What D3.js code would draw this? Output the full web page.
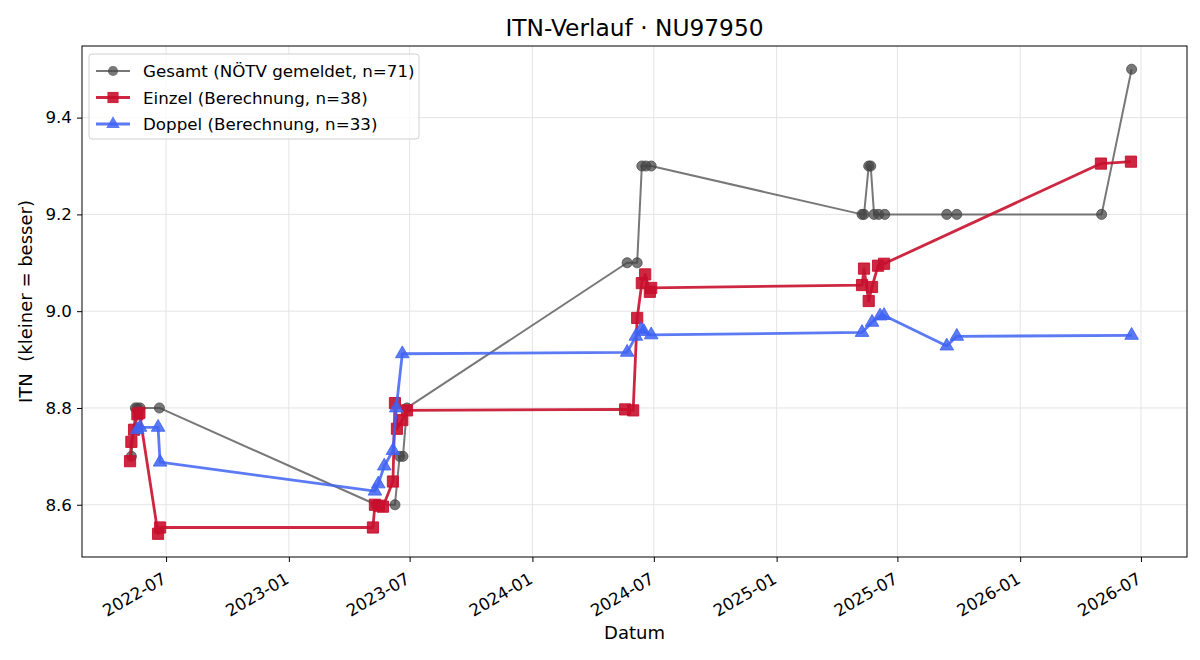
<!DOCTYPE html>
<html>
<head>
<meta charset="utf-8">
<script src="https://cdn.jsdelivr.net/npm/d3@7"></script>
<style>
  body { margin: 0; background: #fff; }
  text { font-family: "DejaVu Sans", sans-serif; fill: #000; }
</style>
</head>
<body>
<div id="chart"></div>
<script>
// data
var gesamtDates = ["2022-05-10","2022-05-16","2022-05-19","2022-05-23","2022-06-21",
  "2023-05-12","2023-06-09","2023-06-16","2023-06-21","2023-06-27",
  "2024-05-22","2024-06-06","2024-06-13","2024-06-19","2024-06-27",
  "2025-05-09","2025-05-12","2025-05-19","2025-05-22","2025-05-27","2025-06-03","2025-06-12",
  "2025-09-13","2025-09-28","2026-05-03","2026-06-17"];
var gesamtVals = [8.7,8.8,8.8,8.8,8.8,
  8.6,8.6,8.7,8.7,8.8,
  9.1,9.1,9.3,9.3,9.3,
  9.2,9.2,9.3,9.3,9.2,9.2,9.2,
  9.2,9.2,9.2,9.5];

var einzelDates = ["2022-05-08","2022-05-10","2022-05-14","2022-05-19","2022-05-22","2022-06-19","2022-06-22",
  "2023-05-07","2023-05-10","2023-05-16","2023-05-22","2023-06-06","2023-06-09","2023-06-12","2023-06-20","2023-06-27",
  "2024-05-19","2024-05-31","2024-06-06","2024-06-13","2024-06-18","2024-06-25","2024-06-27",
  "2025-05-09","2025-05-12","2025-05-19","2025-05-24","2025-06-02","2025-06-11",
  "2026-05-02","2026-06-16"];
var einzelVals = [8.69,8.73,8.755,8.787,8.79,8.54,8.553,
  8.553,8.6,8.598,8.596,8.648,8.81,8.757,8.775,8.795,
  8.797,8.795,8.986,9.058,9.076,9.04,9.048,
  9.054,9.088,9.021,9.05,9.094,9.098,
  9.305,9.309];

var doppelDates = ["2022-05-19","2022-05-23","2022-06-19","2022-06-22",
  "2023-05-10","2023-05-15","2023-05-24","2023-06-06","2023-06-11","2023-06-20",
  "2024-05-22","2024-06-04","2024-06-12","2024-06-16","2024-06-27",
  "2025-05-09","2025-05-24","2025-06-05","2025-06-11",
  "2025-09-13","2025-09-28","2026-06-17"];
var doppelVals = [8.755,8.76,8.76,8.688,
  8.628,8.643,8.68,8.712,8.80,8.912,
  8.915,8.948,8.962,8.958,8.951,
  8.956,8.977,8.99,8.991,
  8.928,8.948,8.95];

var xDomain = ["2022-02-25", "2026-09-08"];
var yTicks = [8.6, 8.8, 9.0, 9.2, 9.4];
var legendLabels = ["Gesamt (NÖTV gemeldet, n=71)", "Einzel (Berechnung, n=38)", "Doppel (Berechnung, n=33)"];

var width = 1200, height = 660;
var margin = {left: 82, right: 13, top: 46, bottom: 103};

var parse = d3.timeParse("%Y-%m-%d");
function pack(dates, vals) {
  return dates.map(function(d, i) { return {date: parse(d), v: vals[i]}; });
}
var series = [
  {name: legendLabels[0], data: pack(gesamtDates, gesamtVals), line: "#444444", lineOpacity: 0.72, lw: 2, fill: "#444444", shape: "circle"},
  {name: legendLabels[1], data: pack(einzelDates, einzelVals), line: "#c8102e", lineOpacity: 0.9, lw: 2.8, fill: "#c8102e", shape: "square"},
  {name: legendLabels[2], data: pack(doppelDates, doppelVals), line: "#3f63f2", lineOpacity: 0.85, lw: 2.8, fill: "#3f63f2", shape: "triangle"}
];

var allPts = [].concat(series[0].data, series[1].data, series[2].data);
var vExt = d3.extent(allPts, function(d) { return d.v; });
var vPad = (vExt[1] - vExt[0]) * 0.05;

var x = d3.scaleTime()
  .domain(xDomain.map(parse))
  .range([margin.left, width - margin.right]);
var y = d3.scaleLinear()
  .domain([vExt[0] - vPad, vExt[1] + vPad])
  .range([height - margin.bottom, margin.top]);

var svg = d3.select("#chart").append("svg")
  .attr("width", width)
  .attr("height", height);

var xTicks = d3.timeMonth.every(6).range(x.domain()[0], x.domain()[1])
  .filter(function(d) { return d.getMonth() == 0 || d.getMonth() == 6; });

//grid
svg.append("g").selectAll("line").data(xTicks).enter().append("line")
  .attr("x1", function(d) { return x(d); })
  .attr("x2", function(d) { return x(d); })
  .attr("y1", margin.top)
  .attr("y2", height - margin.bottom)
  .attr("stroke", "#e4e4e4")
  .attr("stroke-width", 1);
svg.append("g").selectAll("line").data(yTicks).enter().append("line")
  .attr("x1", margin.left)
  .attr("x2", width - margin.right)
  .attr("y1", function(d) { return y(d); })
  .attr("y2", function(d) { return y(d); })
  .attr("stroke", "#e4e4e4")
  .attr("stroke-width", 1);

//axes
var xAxis = svg.append("g")
  .attr("transform", "translate(0," + (height - margin.bottom) + ")")
  .call(d3.axisBottom(x).tickValues(xTicks).tickFormat(d3.timeFormat("%Y-%m")).tickSize(5));
xAxis.selectAll("text")
  .style("font-size", "16.7px")
  .attr("text-anchor", "end")
  .attr("x", 0)
  .attr("y", 0)
  .attr("dy", "0.35em")
  .attr("transform", "translate(-2,20) rotate(-30)");

var yAxis = svg.append("g")
  .attr("transform", "translate(" + margin.left + ",0)")
  .call(d3.axisLeft(y).tickValues(yTicks).tickFormat(d3.format(".1f")).tickSize(5).tickPadding(5));
yAxis.selectAll("text").style("font-size", "16.7px");
svg.selectAll(".domain").remove();

svg.append("rect")
  .attr("x", margin.left)
  .attr("y", margin.top)
  .attr("width", width - margin.left - margin.right)
  .attr("height", height - margin.top - margin.bottom)
  .attr("fill", "none")
  .attr("stroke", "#000")
  .attr("stroke-width", 1);

//lines + markers
var line = d3.line()
  .x(function(d) { return x(d.date); })
  .y(function(d) { return y(d.v); });

var symbolFor = {
  circle: d3.symbol().type(d3.symbolCircle).size(80),
  square: d3.symbol().type(d3.symbolSquare).size(125),
  triangle: d3.symbol().type(d3.symbolTriangle).size(80)
};

series.forEach(function(s) {
  svg.append("path")
    .datum(s.data)
    .attr("d", line)
    .attr("fill", "none")
    .attr("stroke", s.line)
    .attr("stroke-opacity", s.lineOpacity)
    .attr("stroke-width", s.lw)
    .attr("stroke-linejoin", "round");
  svg.append("g").selectAll("path").data(s.data).enter().append("path")
    .attr("d", symbolFor[s.shape])
    .attr("transform", function(d) { return "translate(" + x(d.date) + "," + y(d.v) + ")"; })
    .attr("fill", s.fill)
    .attr("fill-opacity", s.lineOpacity)
    .attr("stroke", s.fill)
    .attr("stroke-opacity", s.lineOpacity)
    .attr("stroke-width", 1);
});

//legend
var lg = svg.append("g").attr("transform", "translate(89,54)");
lg.append("rect")
  .attr("width", 330)
  .attr("height", 85)
  .attr("rx", 3)
  .attr("fill", "#fff")
  .attr("fill-opacity", 0.8)
  .attr("stroke", "#d0d0d0");
series.forEach(function(s, i) {
  var yy = 17 + i * 26.5;
  lg.append("line")
    .attr("x1", 7).attr("x2", 41)
    .attr("y1", yy).attr("y2", yy)
    .attr("stroke", s.line)
    .attr("stroke-opacity", s.lineOpacity)
    .attr("stroke-width", s.lw);
  lg.append("path")
    .attr("d", symbolFor[s.shape])
    .attr("transform", "translate(24," + yy + ")")
    .attr("fill", s.fill)
    .attr("fill-opacity", s.lineOpacity);
  lg.append("text")
    .text(s.name)
    .attr("x", 54)
    .attr("y", yy + 6)
    .style("font-size", "16.7px");
});

//titles
svg.append("text")
  .text("ITN-Verlauf · NU97950")
  .attr("x", (margin.left + width - margin.right) / 2)
  .attr("y", 36)
  .attr("text-anchor", "middle")
  .style("font-size", "23.3px");
svg.append("text")
  .text("Datum")
  .attr("x", (margin.left + width - margin.right) / 2)
  .attr("y", 639)
  .attr("text-anchor", "middle")
  .style("font-size", "18px");
svg.append("text")
  .text("ITN  (kleiner = besser)")
  .attr("transform", "translate(32," + ((margin.top + height - margin.bottom) / 2) + ") rotate(-90)")
  .attr("text-anchor", "middle")
  .style("font-size", "18px")
  .style("white-space", "pre");
</script>
</body>
</html>
